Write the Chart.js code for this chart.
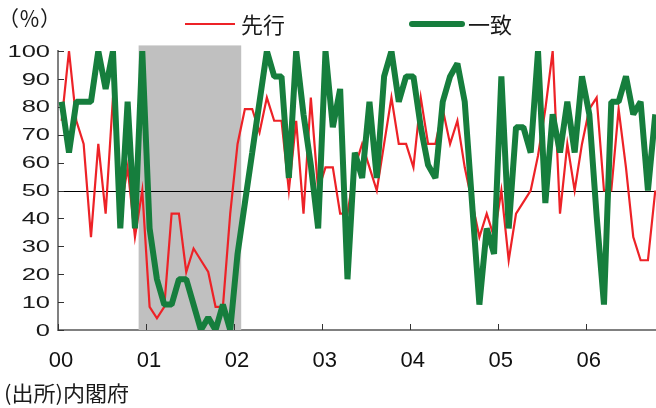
<!DOCTYPE html>
<html>
<head>
<meta charset="utf-8">
<script src="https://cdn.jsdelivr.net/npm/chart.js"></script>
<style>
  body { margin: 0; background: #fff; }
  #wrap { width: 656px; height: 408px; }
</style>
</head>
<body>
<div id="wrap"><canvas id="myChart" width="656" height="408"></canvas></div>
<script>
// 景気動向指数 DI (%), 月次 2000年1月〜2006年10月
var yearLabels = ['00', '01', '02', '03', '04', '05', '06'];
var seriesNames = ['先行', '一致'];

var leading = [
    75, 100, 75, 66.7, 33.3, 66.7, 41.7, 83.3, 41.7, 58.3, 33.3, 50,
    8.3, 4.2, 8.3, 41.7, 41.7, 20.8, 29.2, 25, 20.8, 8.3, 8.3, 41.7,
    66.7, 79.2, 79.2, 70.8, 83.3, 75, 75, 50, 75, 41.7, 83.3, 50,
    58.3, 58.3, 41.7, 41.7, 58.3, 66.7, 58.3, 50, 66.7, 83.3, 66.7, 66.7,
    58.3, 83.3, 66.7, 66.7, 79.2, 66.7, 75, 58.3, 45.8, 33.3, 41.7, 33.3,
    50, 25, 41.7, 45.8, 50, 62.5, 79.2, 100, 41.7, 66.7, 50, 66.7,
    79.2, 83.3, 50, 50, 79.2, 58.3, 33.3, 25, 25, 50
];
var coincident = [
    81.8, 63.6, 81.8, 81.8, 81.8, 100, 86.4, 100, 36.4, 81.8, 36.4, 100,
    36.4, 18.2, 9.1, 9.1, 18.2, 18.2, 9.1, 0, 4.5, 0, 9.1, 0,
    27.3, 45.5, 63.6, 81.8, 100, 90.9, 90.9, 54.5, 100, 77.3, 59.1, 36.4,
    100, 72.7, 86.4, 18.2, 63.6, 54.5, 81.8, 54.5, 90.9, 100, 81.8, 90.9,
    90.9, 72.7, 59.1, 54.5, 81.8, 90.9, 95.5, 81.8, 45.5, 9.1, 36.4, 27.3,
    90.9, 36.4, 72.7, 72.7, 63.6, 100, 45.5, 77.3, 63.6, 81.8, 63.6, 90.9,
    77.3, 40.9, 9.1, 81.8, 81.8, 90.9, 77.3, 81.8, 50, 77.3
];

// 景気後退期 (2000年12月〜2002年1月), 月の番号
var recessionStart = 11;
var recessionEnd = 25;
var refLine = 50;
var xMax = 81.6;

function toPoints(arr) {
    return arr.map(function (v, i) { return { x: i + 0.5, y: v }; });
}

var RED = '#ED2227';
var GREEN = '#167E3D';

var decor = {
    id: 'decor',
    beforeDatasetsDraw: function (chart) {
        var ctx = chart.ctx, x = chart.scales.x, y = chart.scales.y, a = chart.chartArea;
        ctx.save();
        // shading
        ctx.fillStyle = '#C0C0C0';
        var x0 = x.getPixelForValue(recessionStart), x1 = x.getPixelForValue(recessionEnd);
        var yt = y.getPixelForValue(102), yb = y.getPixelForValue(0);
        ctx.fillRect(x0, yt, x1 - x0, yb - yt);
        // 50 line
        ctx.strokeStyle = '#000';
        ctx.lineWidth = 1;
        var py = Math.round(y.getPixelForValue(refLine)) + 0.5;
        ctx.beginPath();
        ctx.moveTo(a.left, py);
        ctx.lineTo(a.right, py);
        ctx.stroke();
        // inward ticks
        ctx.strokeStyle = '#333';
        ctx.lineWidth = 1;
        y.ticks.forEach(function (t) {
            var p = Math.round(y.getPixelForValue(t.value)) + 0.5;
            ctx.beginPath();
            ctx.moveTo(a.left, p);
            ctx.lineTo(a.left + 6, p);
            ctx.stroke();
        });
        x.ticks.forEach(function (t) {
            var p = Math.round(x.getPixelForValue(t.value)) + 0.5;
            ctx.beginPath();
            ctx.moveTo(p, a.bottom);
            ctx.lineTo(p, a.bottom - 6);
            ctx.stroke();
        });
        ctx.restore();
    },
    afterDraw: function (chart) {
        var ctx = chart.ctx, y = chart.scales.y;
        ctx.save();
        ctx.fillStyle = '#1a1a1a';
        // y tick labels (wide)
        ctx.font = '17px "Liberation Sans", Arial, sans-serif';
        ctx.textAlign = 'right';
        ctx.textBaseline = 'middle';
        y.ticks.forEach(function (t) {
            ctx.save();
            ctx.translate(50, y.getPixelForValue(t.value) + 1);
            ctx.scale(1.5, 1);
            ctx.fillText(String(t.value), 0, 0);
            ctx.restore();
        });
        // unit
        ctx.textAlign = 'left';
        ctx.font = '21px "Noto Sans CJK JP", sans-serif';
        ctx.fillText('（％）', -2, 18);
        // legend
        ctx.font = '22px "Noto Sans CJK JP", sans-serif';
        var items = chart.data.datasets;
        var lx = [185, 412];
        items.forEach(function (ds, k) {
            ctx.strokeStyle = ds.borderColor;
            ctx.lineWidth = ds.borderWidth;
            ctx.lineCap = k === 1 ? 'round' : 'butt';
            ctx.beginPath();
            ctx.moveTo(lx[k], 24);
            ctx.lineTo(lx[k] + 50, 24);
            ctx.stroke();
            ctx.fillText(ds.label, lx[k] + 56, 25);
        });
        // source
        ctx.font = '21px "Noto Sans CJK JP", sans-serif';
        ctx.save();
        ctx.translate(4, 393);
        ctx.scale(1.05, 1);
        ctx.fillText('(出所)内閣府', 0, 0);
        ctx.restore();
        ctx.restore();
    }
};

var ctx = document.getElementById('myChart').getContext('2d');
var chart = new Chart(ctx, {
    type: 'line',
    data: {
        datasets: [{
            label: seriesNames[0],
            data: toPoints(leading),
            borderColor: RED,
            borderWidth: 2.2,
            pointRadius: 0,
            order: 2
        }, {
            label: seriesNames[1],
            data: toPoints(coincident),
            borderColor: GREEN,
            borderWidth: 6,
            borderJoinStyle: 'bevel',
            pointRadius: 0,
            order: 1
        }]
    },
    options: {
        responsive: false,
        animation: false,
        layout: { padding: { top: 51, left: 0, right: 0, bottom: 0 } },
        plugins: { legend: { display: false }, tooltip: { enabled: false } },
        scales: {
            x: {
                type: 'linear',
                min: 0,
                max: xMax,
                afterBuildTicks: function (s) {
                    s.ticks = yearLabels.map(function (l, i) { return { value: i * 12 }; });
                },
                afterFit: function (s) { s.height = 78; },
                grid: { display: false, drawTicks: false },
                border: { color: '#808080', width: 2 },
                ticks: {
                    autoSkip: false,
                    maxRotation: 0,
                    padding: 18,
                    labelOffset: 3,
                    color: '#111',
                    font: { family: '"Liberation Sans", Arial, sans-serif', size: 22 },
                    callback: function (v) { return yearLabels[v / 12] || ''; }
                }
            },
            y: {
                min: 0,
                max: 100,
                afterFit: function (s) { s.width = 58; },
                grid: { display: false },
                border: { color: '#808080', width: 2 },
                ticks: { stepSize: 10, display: false }
            }
        }
    },
    plugins: [decor]
});
</script>
</body>
</html>
